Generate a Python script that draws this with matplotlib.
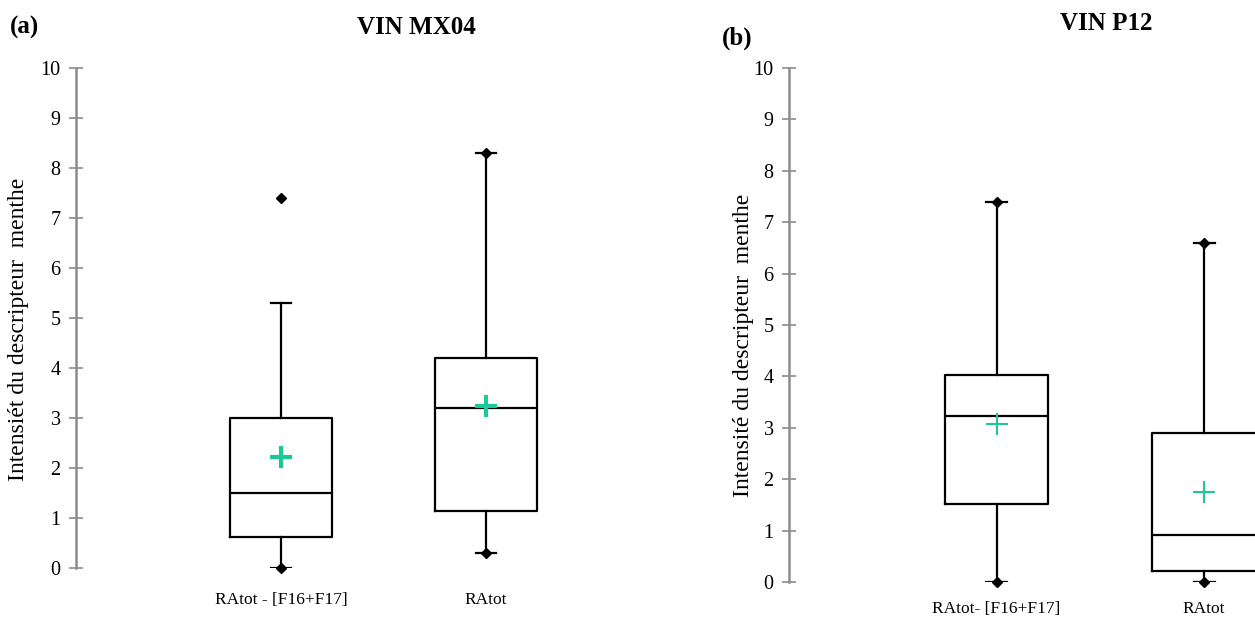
import matplotlib.pyplot as plt

# summary statistics read for each wine, two attributes each
categories_a = ['RAtot - [F16+F17]', 'RAtot']
q1_a = [0.63, 1.15]
med_a = [1.5, 3.2]
q3_a = [3.0, 4.2]
whislo_a = [0.0, 0.3]
whishi_a = [5.3, 8.3]
mean_a = [2.22, 3.25]
min_a = [0.0, 0.3]
max_a = [7.4, 8.3]

categories_b = ['RAtot- [F16+F17]', 'RAtot']
q1_b = [1.52, 0.21]
med_b = [3.22, 0.91]
q3_b = [4.02, 2.9]
whislo_b = [0.0, 0.0]
whishi_b = [7.4, 6.6]
mean_b = [3.07, 1.76]
min_b = [0.0, 0.0]
max_b = [7.4, 6.6]

plt.rcParams['font.family'] = ['Liberation Serif', 'DejaVu Serif']
green = '#1ec896'
spine_grey = '#8c8c8c'


def make_stats(q1, med, q3, lo, hi, mean):
    stats = []
    for i in range(len(q1)):
        stats.append({'q1': q1[i], 'med': med[i], 'q3': q3[i],
                      'whislo': lo[i], 'whishi': hi[i], 'mean': mean[i], 'fliers': []})
    return stats


def draw_panel(ax, stats, mins, maxs, labels, mean_ms, mean_mew, xpad):
    pos = [1, 2]
    ax.bxp(stats, positions=pos, widths=0.5, capwidths=0.1, showmeans=True,
           boxprops=dict(color='black', linewidth=1.6),
           medianprops=dict(color='black', linewidth=1.6),
           whiskerprops=dict(color='black', linewidth=1.6),
           capprops=dict(color='black', linewidth=1.6),
           meanprops=dict(marker='+', markeredgecolor=green, markersize=mean_ms,
                          markeredgewidth=mean_mew))
    ax.plot(pos, mins, 'D', color='black', ms=5, clip_on=False, zorder=5)
    ax.plot(pos, maxs, 'D', color='black', ms=5, clip_on=False, zorder=5)
    ax.set_ylim(0, 10)
    ax.set_yticks(range(0, 11))
    ax.set_xticks(pos)
    ax.set_xticklabels(labels, fontsize=12.5)
    ax.tick_params(axis='x', length=0, pad=xpad)
    ax.tick_params(axis='y', direction='inout', length=10, width=1.2, color=spine_grey,
                   labelsize=14.5, pad=6)
    for s in ['top', 'right', 'bottom']:
        ax.spines[s].set_visible(False)
    ax.spines['left'].set_color(spine_grey)
    ax.spines['left'].set_linewidth(1.8)


fig = plt.figure(figsize=(12.55, 6.19), dpi=100)
ax1 = fig.add_axes([76 / 1255, 51 / 619, 615 / 1255, 500 / 619])
ax1.set_xlim(0, 3)
draw_panel(ax1, make_stats(q1_a, med_a, q3_a, whislo_a, whishi_a, mean_a), min_a, max_a,
           categories_a, 16, 3, 17)

ax2 = fig.add_axes([789 / 1255, 37 / 619, 466 / 1255, 514 / 619])
ax2.set_xlim(0, 2.245)
draw_panel(ax2, make_stats(q1_b, med_b, q3_b, whislo_b, whishi_b, mean_b), min_b, max_b,
           categories_b, 16, 1.5, 14)

fig.text(19 / 1255, 1 - 329 / 619, 'Intensiét du descripteur  menthe', fontsize=17,
         rotation=90, ha='center', va='center')
fig.text(743 / 1255, 1 - 345 / 619, 'Intensité du descripteur  menthe', fontsize=17,
         rotation=90, ha='center', va='center')

fig.text(10 / 1255, 1 - 27 / 619, '(a)', fontsize=18, fontweight='bold', va='center')
fig.text(416 / 1255, 1 - 27 / 619, 'VIN MX04', fontsize=18, fontweight='bold',
         ha='center', va='center')
fig.text(722 / 1255, 1 - 38 / 619, '(b)', fontsize=18, fontweight='bold', va='center')
fig.text(1106 / 1255, 1 - 24 / 619, 'VIN P12', fontsize=18, fontweight='bold',
         ha='center', va='center')

fig.savefig('out.png', dpi=100)
